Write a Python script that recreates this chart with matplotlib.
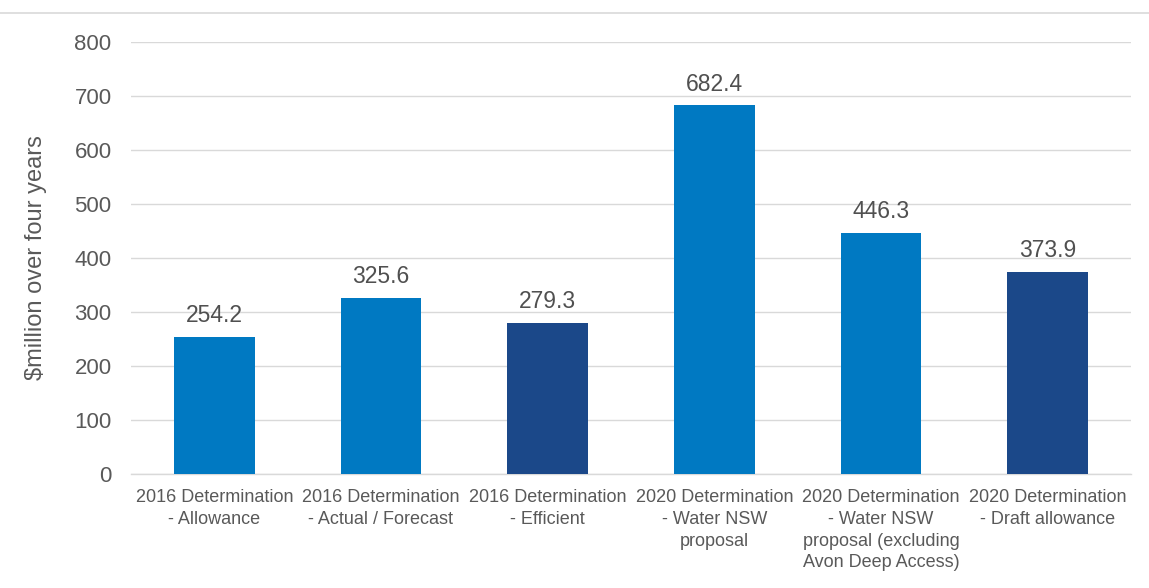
import matplotlib
matplotlib.use("Agg")
import matplotlib.pyplot as plt
from matplotlib.lines import Line2D

plt.rcParams['font.family'] = ['Liberation Sans', 'DejaVu Sans']

categories = [
    "2016 Determination\n- Allowance",
    "2016 Determination\n- Actual / Forecast",
    "2016 Determination\n- Efficient",
    "2020 Determination\n- Water NSW\nproposal",
    "2020 Determination\n- Water NSW\nproposal (excluding\nAvon Deep Access)",
    "2020 Determination\n- Draft allowance",
]
values = [254.2, 325.6, 279.3, 682.4, 446.3, 373.9]
bar_kinds = ["light", "light", "dark", "light", "light", "dark"]
y_ticks = [0, 100, 200, 300, 400, 500, 600, 700, 800]

palette = {"light": "#0079C2", "dark": "#1B4889"}

fig = plt.figure(figsize=(11.49, 5.88), dpi=100)
ax = fig.add_axes([0.114, 0.1939, 0.8703, 0.7347])

x = list(range(len(categories)))
ax.bar(x, values, width=0.485, color=[palette[k] for k in bar_kinds], zorder=3)

for xi, v in zip(x, values):
    ax.text(xi, v + 18, f"{v:.1f}", ha="center", va="bottom",
            fontsize=16.5, color="#505050", zorder=4)

ax.set_xlim(-0.5, len(categories) - 0.5)
ax.set_ylim(0, 800)
ax.set_yticks(y_ticks)
ax.set_yticklabels([str(t) for t in y_ticks], fontsize=16, color="#595959")
ax.set_xticks(x)
ax.set_xticklabels(categories, fontsize=13, color="#595959", linespacing=1.36)

ax.yaxis.grid(True, color="#D9D9D9", linewidth=1.0, zorder=0)
ax.set_axisbelow(True)
for side in ["top", "right", "left"]:
    ax.spines[side].set_visible(False)
ax.spines["bottom"].set_color("#D9D9D9")
ax.spines["bottom"].set_linewidth(1.0)
ax.tick_params(axis="both", length=0)
ax.tick_params(axis="x", pad=11)
ax.tick_params(axis="y", pad=14)

ax.set_ylabel("$million over four years", fontsize=17, color="#595959", labelpad=20)

# thin rule across the top of the figure
fig.add_artist(Line2D([0, 1], [1 - 13 / 588, 1 - 13 / 588], transform=fig.transFigure,
                      color="#D9D9D9", linewidth=1.2))

fig.savefig("out.png", dpi=100, facecolor="white")
